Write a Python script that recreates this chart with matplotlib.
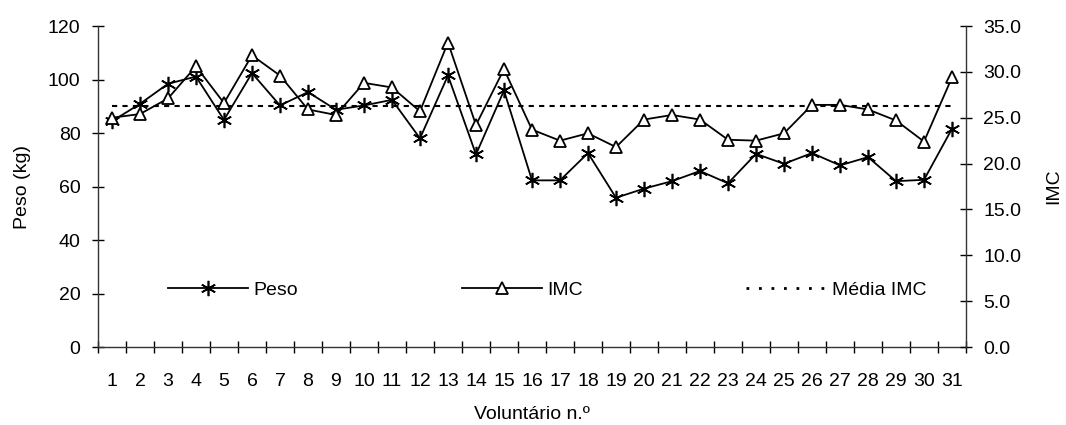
import matplotlib
matplotlib.use("Agg")
import matplotlib.pyplot as plt
from matplotlib.lines import Line2D

plt.rcParams['font.family'] = ['Liberation Sans', 'DejaVu Sans']

voluntarios = list(range(1, 32))
peso = [84.4, 90.9, 98.4, 101.1, 84.9, 102.4, 90.3, 95.3, 88.7, 90.3,
        92.4, 78.0, 101.5, 72.0, 95.9, 62.3, 62.3, 72.5, 55.8, 59.2,
        62.0, 65.8, 61.2, 72.2, 68.5, 72.5, 67.9, 71.0, 62.0, 62.5, 81.6]
imc = [25.0, 25.4, 27.1, 30.6, 26.6, 31.8, 29.6, 25.9, 25.3, 28.8,
       28.3, 25.7, 33.2, 24.2, 30.3, 23.7, 22.5, 23.3, 21.8, 24.8,
       25.3, 24.8, 22.6, 22.5, 23.3, 26.4, 26.4, 25.9, 24.7, 22.4, 29.4]
media_imc = 26.3

peso_ticks = [0, 20, 40, 60, 80, 100, 120]
imc_ticks = [0, 5, 10, 15, 20, 25, 30, 35]

FS = 14

fig = plt.figure(figsize=(10.66, 4.25), dpi=100)
ax = fig.add_axes([0.0919, 0.1835, 0.8143, 0.7553])
ax2 = ax.twinx()

star = (6, 2, 0)
ln_peso, = ax.plot(voluntarios, peso, color='black', lw=1.3, marker=star,
                   ms=11, mew=1.2, mec='black', label='Peso', zorder=3)
ln_imc, = ax2.plot(voluntarios, imc, color='black', lw=1.3, marker='^',
                   ms=8.5, mew=1.3, mec='black', mfc='white', label='IMC',
                   zorder=3)
ax2.plot(voluntarios, [media_imc] * len(voluntarios), color='black',
         lw=1.5, dashes=(2.5, 2.5), zorder=2)

ax.set_xlim(0.5, 31.5)
ax.set_ylim(0, 120)
ax2.set_ylim(0, 35)

# boundary ticks between categories, labels at category centres
ax.set_xticks([i + 0.5 for i in range(0, 32)])
ax.set_xticklabels([])
ax.set_xticks(voluntarios, minor=True)
ax.set_xticklabels([str(v) for v in voluntarios], minor=True, fontsize=FS)
ax.tick_params(axis='x', which='major', direction='inout', length=9,
               width=1, color='black')
ax.tick_params(axis='x', which='minor', length=0, pad=19)

ax.set_yticks(peso_ticks)
ax.set_yticklabels([str(t) for t in peso_ticks], fontsize=FS)
ax.tick_params(axis='y', direction='inout', length=9, width=1, pad=8)

ax2.set_yticks(imc_ticks)
ax2.set_yticklabels([f"{t:.1f}" for t in imc_ticks], fontsize=FS)
ax2.tick_params(axis='y', direction='inout', length=9, width=1, pad=8)

for a in (ax, ax2):
    a.spines['top'].set_visible(False)
    for s in ('left', 'right', 'bottom'):
        a.spines[s].set_linewidth(1)
        a.spines[s].set_color('#333333')
ax.spines['right'].set_visible(False)
ax2.spines['left'].set_visible(False)
ax2.spines['bottom'].set_visible(False)

ax.set_ylabel('Peso (kg)', fontsize=FS, labelpad=12)
ax2.set_ylabel('IMC', fontsize=FS, labelpad=17, rotation=90)
ax.set_xlabel('Voluntário n.º', fontsize=FS, labelpad=11)

media_handle = Line2D([], [], color='black', lw=2, dashes=(1, 3.5))
leg = ax2.legend([ln_peso, ln_imc, media_handle],
                 ['Peso', 'IMC', 'Média IMC'],
                 loc='center left', bbox_to_anchor=(0.081, 0.178),
                 ncol=3, frameon=False, fontsize=FS, handlelength=4.1,
                 handletextpad=0.3, columnspacing=8.4, borderaxespad=0,
                 borderpad=0)

fig.savefig('out.png', dpi=100)
